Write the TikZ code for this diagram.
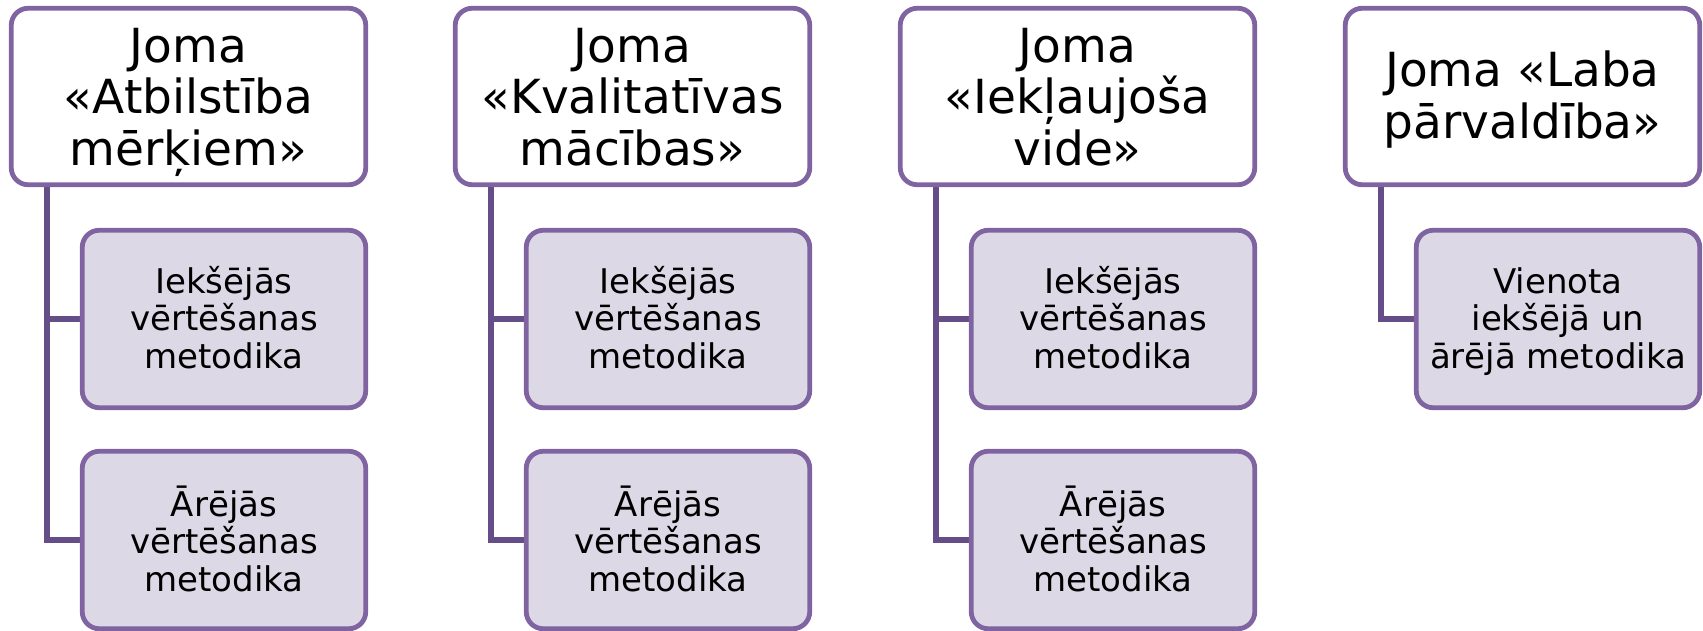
\documentclass[tikz,border=0pt]{standalone}
\usepackage{fontspec}
\setmainfont{DejaVu Sans}
\usetikzlibrary{backgrounds}
\definecolor{boxc}{HTML}{8064A2}
\definecolor{linec}{HTML}{654E87}
\definecolor{kidfill}{HTML}{DCD8E6}
\tikzset{
  ttlbox/.style={draw=boxc, line width=4.8pt, rounded corners=17pt, fill=white,
    minimum width=354.5pt, minimum height=176.5pt, inner sep=0pt},
  kidbox/.style={draw=boxc, line width=4.8pt, rounded corners=17pt, fill=kidfill,
    minimum width=283.5pt, minimum height=177.5pt, inner sep=0pt},
  ttltext/.style={font=\fontsize{47}{51.5}\selectfont, align=center, anchor=base, inner sep=0pt},
  kidtext/.style={font=\fontsize{34}{37.5}\selectfont, align=center, anchor=base, inner sep=0pt},
  conn/.style={draw=linec, line width=5.5pt}
}
\begin{document}
\begin{tikzpicture}[x=1pt,y=-1pt]
\useasboundingbox (0,0) rectangle (1703,630);
% column 1
\node[ttlbox] (T1) at (188.5,96.5) {};
\node[ttltext] (T1t) at (188.5,165) {Joma\\«Atbilstība\\mērķiem»};
\node[kidbox] (C11) at (224,319) {};
\node[kidtext] (C11t) at (224,368) {Iekšējās\\vērtēšanas\\metodika};
\node[kidbox] (C12) at (224,540) {};
\node[kidtext] (C12t) at (224,591) {Ārējās\\vērtēšanas\\metodika};
\coordinate (S1) at (47,180);
% column 2
\node[ttlbox] (T2) at (632.5,96.5) {};
\node[ttltext] (T2t) at (632.5,165) {Joma\\«Kvalitatīvas\\mācības»};
\node[kidbox] (C21) at (668,319) {};
\node[kidtext] (C21t) at (668,368) {Iekšējās\\vērtēšanas\\metodika};
\node[kidbox] (C22) at (668,540) {};
\node[kidtext] (C22t) at (668,591) {Ārējās\\vērtēšanas\\metodika};
\coordinate (S2) at (491,180);
% column 3
\node[ttlbox] (T3) at (1077.5,96.5) {};
\node[ttltext] (T3t) at (1077.5,165) {Joma\\«Iekļaujoša\\vide»};
\node[kidbox] (C31) at (1113,319) {};
\node[kidtext] (C31t) at (1113,368) {Iekšējās\\vērtēšanas\\metodika};
\node[kidbox] (C32) at (1113,540) {};
\node[kidtext] (C32t) at (1113,591) {Ārējās\\vērtēšanas\\metodika};
\coordinate (S3) at (936,180);
% column 4
\node[ttlbox] (T4) at (1522.5,96.5) {};
\node[ttltext] (T4t) at (1522.5,138) {Joma «Laba\\pārvaldība»};
\node[kidbox] (C41) at (1558,319) {};
\node[kidtext] (C41t) at (1558,368) {Vienota\\iekšējā un\\ārējā metodika};
\coordinate (S4) at (1381,180);
\begin{scope}[on background layer]
\draw[conn] (S1) |- (C11.west);
\draw[conn] (S1) |- (C12.west);
\draw[conn] (S2) |- (C21.west);
\draw[conn] (S2) |- (C22.west);
\draw[conn] (S3) |- (C31.west);
\draw[conn] (S3) |- (C32.west);
\draw[conn] (S4) |- (C41.west);
\end{scope}
\end{tikzpicture}
\end{document}
